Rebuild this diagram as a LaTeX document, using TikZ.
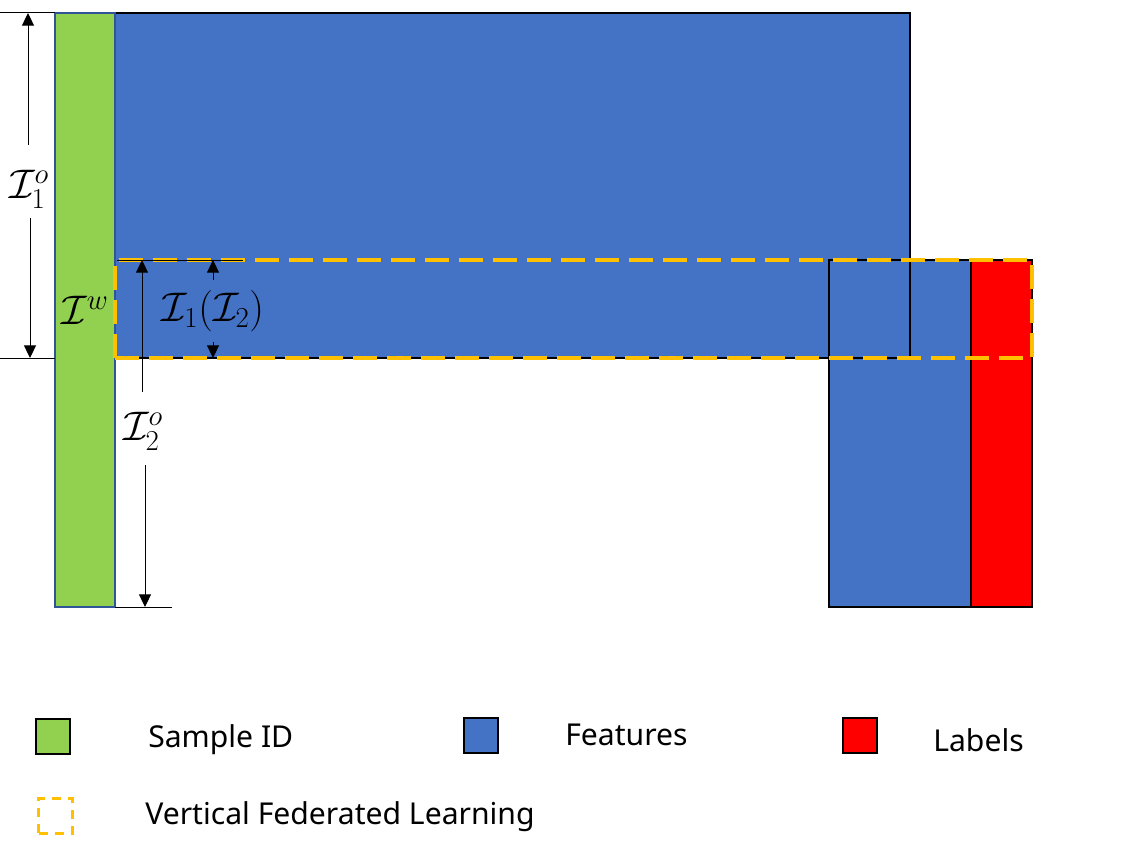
\RequirePackage{fix-cm}
\documentclass[tikz,border=0pt]{standalone}
\usepackage{fontspec}
\newfontfamily\legendfont{Noto Sans}
\usetikzlibrary{arrows.meta}
\definecolor{idgreen}{HTML}{92D050}
\definecolor{featblue}{HTML}{4472C4}
\definecolor{lblred}{HTML}{FF0000}
\definecolor{vflyellow}{HTML}{FFC000}
\definecolor{idborder}{HTML}{2F5597}
\begin{document}
\begin{tikzpicture}[x=0.75pt,y=-0.75pt,
  block/.style={anchor=north west, inner sep=0pt, outer sep=0pt},
  border/.style={draw=black, line width=1.5pt},
  dimline/.style={line width=0.75pt, -{Triangle[length=9.5pt,width=9pt]}},
  extline/.style={line width=0.75pt},
  mathlabel/.style={inner sep=0pt, font=\fontsize{31}{37}\selectfont},
  legendtext/.style={anchor=west, inner sep=0pt, font=\legendfont\fontsize{22.6}{27}\selectfont},
  vfl/.style={draw=vflyellow, line width=2.6pt, dash pattern=on 18pt off 7.5pt},
  legendbox/.style={anchor=north west, inner sep=0pt, minimum width=25.5pt, minimum height=26pt, line width=1.5pt},
]
\useasboundingbox (0,0) rectangle (1145,856);

% fills
\node[block, fill=featblue, minimum width=106.5pt, minimum height=260.25pt] (brfeat) at (829,260) {};
\node[block, fill=lblred, minimum width=45.75pt, minimum height=260.25pt] (labels) at (971,260) {};
\node[block, fill=featblue, minimum width=596.25pt, minimum height=258.75pt] (topfeat) at (115,13) {};
% borders
\draw[border] (brfeat.north west) rectangle (brfeat.south east);
\draw[border] (labels.north west) rectangle (labels.south east);
\draw[border] (topfeat.north west) rectangle (topfeat.south east);
% sample id bar
\node[block, fill=idgreen, draw=idborder, line width=1.2pt, minimum width=45pt, minimum height=445.5pt] (sid) at (55,13) {};
% vertical FL box
\node[block, vfl, minimum width=687.75pt, minimum height=73.5pt] (vflbox) at (115,260) {};

% extension lines
\coordinate (e1) at (0,13);
\coordinate (e2) at (0,358);
\coordinate (e2r) at (55,358);
\coordinate (e3l) at (117,260);
\coordinate (e3r) at (243,260);
\coordinate (e4r) at (172,607);
\draw[extline] (e1) -- (sid.north west);
\draw[extline] (e2) -- (e2r);
\draw[extline] (e3l) -- (e3r);
\draw[extline] (sid.south east) -- (e4r);

% I1o dimension
\node[mathlabel] (l1o) at (29,189) {$\mathcal{I}_1^o$};
\coordinate (d1top) at (28,13);
\coordinate (d1a) at (28,145);
\coordinate (d1b) at (30,218);
\coordinate (d1bot) at (30,358);
\draw[dimline] (d1a) -- (d1top);
\draw[dimline] (d1b) -- (d1bot);

% Iw label
\node[mathlabel] (lw) at (85,310) {$\mathcal{I}^w$};

% I2o dimension
\node[mathlabel] (l2o) at (143,431) {$\mathcal{I}_2^o$};
\coordinate (d2top) at (142,260);
\coordinate (d2a) at (142,392);
\coordinate (d2b) at (145,465);
\coordinate (d2bot) at (145,607);
\draw[dimline] (d2a) -- (d2top);
\draw[dimline] (d2b) -- (d2bot);

% I1(I2) dimension
\node[mathlabel] (l12) at (213,311) {$\mathcal{I}_1(\mathcal{I}_2)$};
\coordinate (d3top) at (213,260);
\coordinate (d3a) at (213,280);
\coordinate (d3b) at (213,342);
\coordinate (d3bot) at (213,358);
\draw[dimline] (d3a) -- (d3top);
\draw[dimline] (d3b) -- (d3bot);

% legend
\node[legendbox, fill=idgreen, draw=black] (lgid) at (35,718) {};
\node[legendtext] (tid) at (148,740) {Sample ID};
\node[legendbox, fill=featblue, draw=black] (lgfeat) at (463,717) {};
\node[legendtext] (tfeat) at (565,735) {Features};
\node[legendbox, fill=lblred, draw=black] (lglbl) at (842,717) {};
\node[legendtext] (tlbl) at (933,740) {Labels};
\node[legendbox, draw=vflyellow, line width=2.4pt, dash pattern=on 7pt off 5pt] (lgvfl) at (37,797) {};
\node[legendtext] (tvfl) at (145,817) {Vertical Federated Learning};
\end{tikzpicture}
\end{document}
